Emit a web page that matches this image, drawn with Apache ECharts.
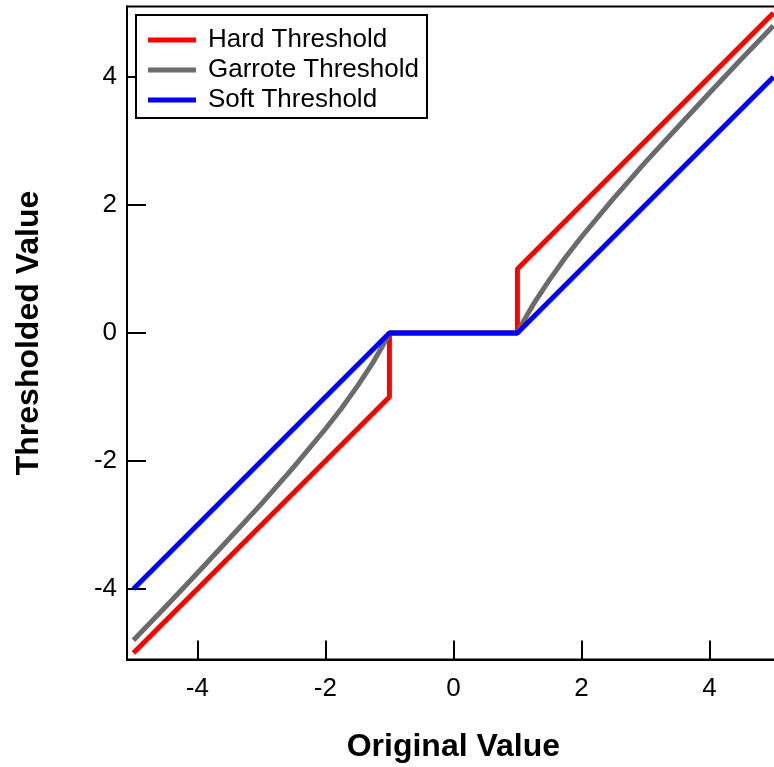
<!DOCTYPE html>
<html>
<head>
<meta charset="utf-8">
<script src="https://cdn.jsdelivr.net/npm/echarts@6/dist/echarts.min.js"></script>
<style>
html,body{margin:0;padding:0;background:#fff;}
#chart{width:774px;height:767px;}
</style>
</head>
<body>
<div id="chart"></div>
<script>
const seriesNames = ['Hard Threshold', 'Garrote Threshold', 'Soft Threshold'];
const tickValues = [-4, -2, 0, 2, 4];

const hardX = [-5, -1, -1, 1, 1, 5];
const hardY = [-5, -1, 0, 0, 1, 5];

const garroteX = [-5, -4.5, -4, -3.5, -3, -2.5, -2, -1.75, -1.5, -1.25, -1.1, -1, 1, 1.1, 1.25, 1.5, 1.75, 2, 2.5, 3, 3.5, 4, 4.5, 5];
const garroteY = [-4.8, -4.28, -3.75, -3.21, -2.67, -2.1, -1.5, -1.18, -0.83, -0.45, -0.19, 0, 0, 0.19, 0.45, 0.83, 1.18, 1.5, 2.1, 2.67, 3.21, 3.75, 4.28, 4.8];

const softX = [-5, -1, 1, 5];
const softY = [-4, 0, 0, 4];

const colors = ['#ff0000', '#6b6b6b', '#0000ff'];

function pairs(xs, ys) { return xs.map((x, i) => [x, ys[i]]); }

const chart = echarts.init(document.getElementById('chart'), null, {renderer: 'canvas'});
const FONT = 'Liberation Sans';

const axisCommon = {
  type: 'value',
  min: -5.1,
  max: 5.1,
  axisLine: {show: true, onZero: false, lineStyle: {color: '#000', width: 2}},
  axisTick: {show: true, inside: true, length: 19, lineStyle: {color: '#000', width: 2}, customValues: tickValues},
  axisLabel: {show: true, color: '#000', fontFamily: FONT, fontSize: 26, customValues: tickValues},
  splitLine: {show: false},
  nameLocation: 'middle',
  nameTextStyle: {color: '#000', fontFamily: FONT, fontSize: 32, fontWeight: 'bold'}
};

chart.setOption({
  animation: false,
  backgroundColor: '#fff',
  grid: {left: 127, top: 6.6, width: 652.8, height: 652.8, outerBoundsMode: 'none', containLabel: false,
         show: true, borderColor: '#000', borderWidth: 2, backgroundColor: 'transparent'},
  xAxis: Object.assign({}, axisCommon, {
    name: 'Original Value', nameGap: 72,
    axisLabel: Object.assign({}, axisCommon.axisLabel, {margin: 16})
  }),
  yAxis: Object.assign({}, axisCommon, {
    name: 'Thresholded Value', nameGap: 82,
    axisLabel: Object.assign({}, axisCommon.axisLabel, {margin: 10})
  }),
  legend: {
    orient: 'vertical',
    left: 136, top: 15,
    padding: [10, 8, 3, 12],
    borderColor: '#000', borderWidth: 2,
    backgroundColor: '#fff',
    itemWidth: 48, itemHeight: 5,
    itemGap: 0,
    icon: 'rect',
    textStyle: {color: '#000', fontFamily: FONT, fontSize: 26, lineHeight: 30, padding: [0, 0, 0, 7]},
    data: seriesNames
  },
  series: [
    {name: seriesNames[0], type: 'line', data: pairs(hardX, hardY), showSymbol: false, color: colors[0], lineStyle: {width: 5, color: colors[0]}},
    {name: seriesNames[1], type: 'line', data: pairs(garroteX, garroteY), showSymbol: false, color: colors[1], lineStyle: {width: 5, color: colors[1]}},
    {name: seriesNames[2], type: 'line', data: pairs(softX, softY), showSymbol: false, color: colors[2], lineStyle: {width: 5, color: colors[2]}}
  ]
});
</script>
</body>
</html>
